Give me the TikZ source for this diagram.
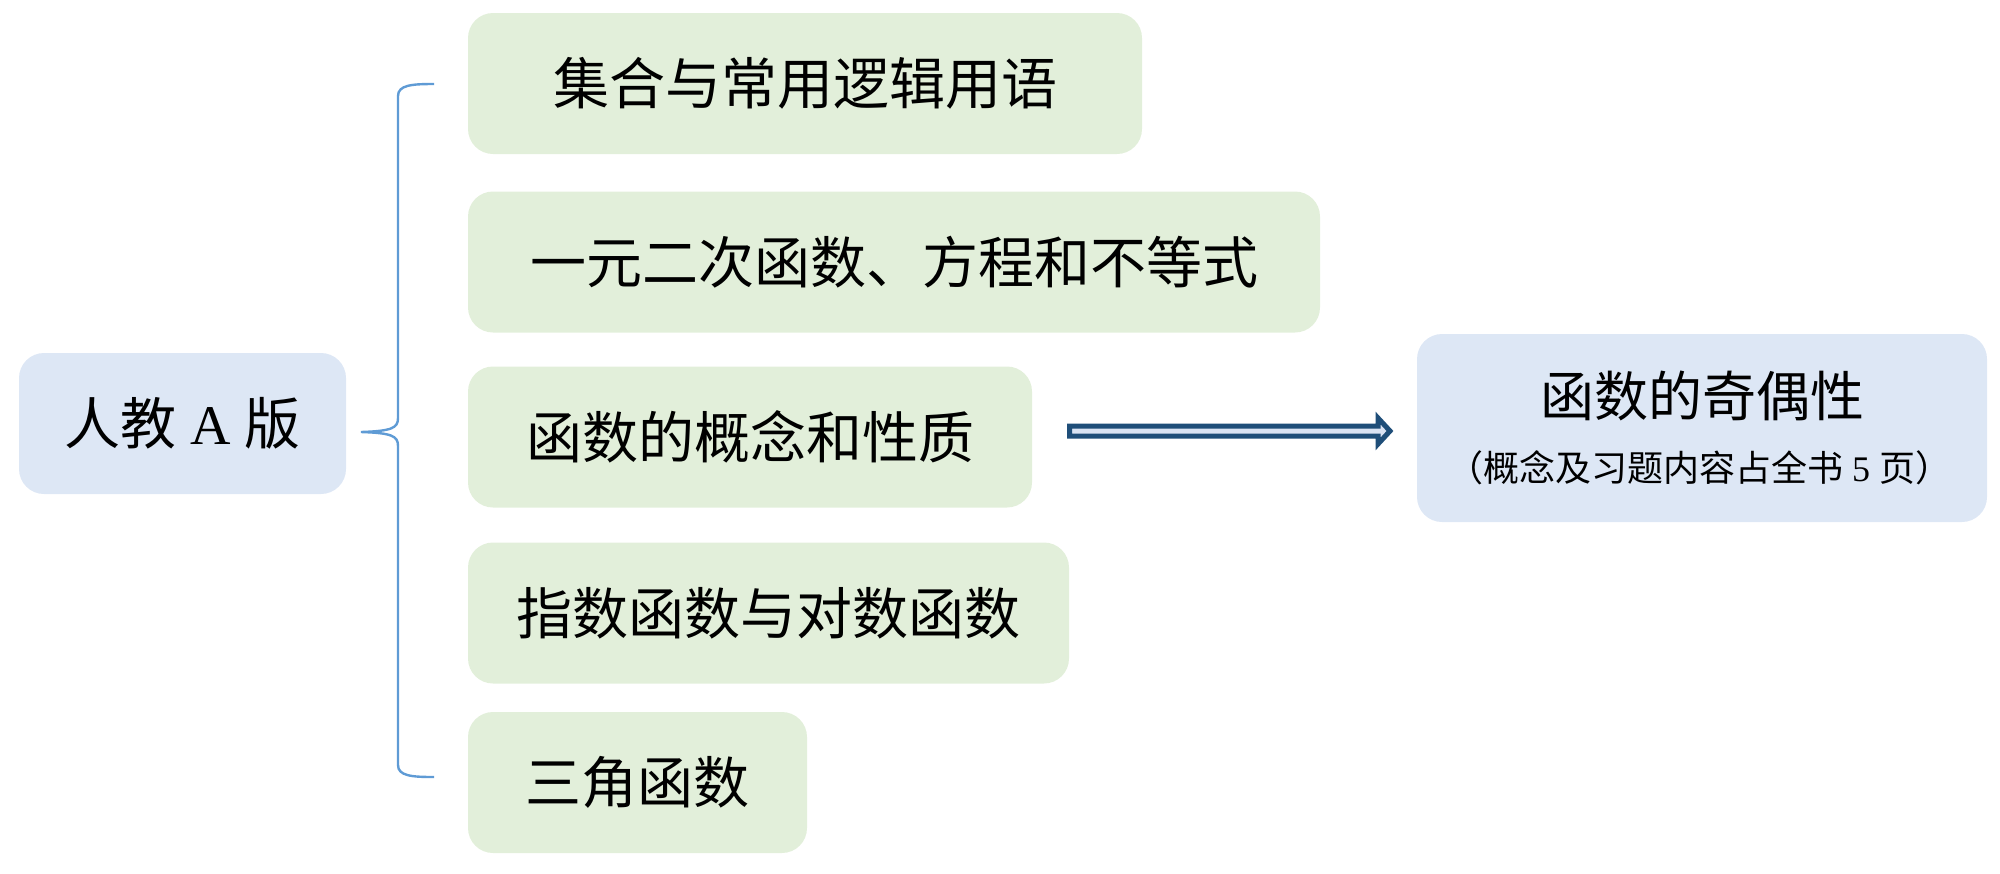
\documentclass[tikz,border=0pt]{standalone}
\usepackage{fontspec}
\setmainfont{Liberation Serif}
\newfontfamily\cjk{Noto Sans CJK SC}
\definecolor{boxgreen}{RGB}{226,239,218}
\definecolor{boxblue}{RGB}{221,231,245}
\definecolor{bracecol}{RGB}{95,155,213}
\definecolor{arrowdark}{RGB}{31,78,121}
\definecolor{arrowlight}{RGB}{218,227,243}
\begin{document}
\begin{tikzpicture}[x=0.5pt,y=-0.5pt,
  basebox/.style={rectangle, rounded corners=12.5pt, inner sep=0pt, minimum height=70.5pt, font=\fontsize{28pt}{34pt}\selectfont},
  greenbox/.style={basebox, fill=boxgreen},
  bluebox/.style={basebox, fill=boxblue},
  bracestyle/.style={draw=bracecol, line width=1.2pt},
  bigarrow/.style={draw=arrowdark, fill=arrowlight, line width=2.5pt, line join=miter}]
\useasboundingbox (0,0) rectangle (2000,873);
% left box
\node[bluebox, minimum width=163.5pt] (l) at (182.5,423.5) {{\cjk 人教} A {\cjk 版}};
% green boxes
\node[greenbox, minimum width=337pt] (g1) at (805,83.5) {\cjk 集合与常用逻辑用语};
\node[greenbox, minimum width=426pt] (g2) at (894,262) {\cjk 一元二次函数、方程和不等式};
\node[greenbox, minimum width=282pt] (g3) at (750,437) {\cjk 函数的概念和性质};
\node[greenbox, minimum width=300.5pt] (g4) at (768.5,613) {\cjk 指数函数与对数函数};
\node[greenbox, minimum width=169.5pt] (g5) at (637.5,782.5) {\cjk 三角函数};
% right box
\node[bluebox, minimum width=285pt, minimum height=94pt] (r) at (1702,428) {};
\node[font=\fontsize{27pt}{31pt}\selectfont, inner sep=0pt] (rt) at (1702,396) {\cjk 函数的奇偶性};
\node[font=\fontsize{18pt}{21pt}\selectfont, inner sep=0pt] (rs) at (1699,468) {{\cjk （概念及习题内容占全书} 5 {\cjk 页）}};
% brace
\coordinate (bt) at (434,84);
\coordinate (bm) at (361,432);
\coordinate (bb) at (434,777);
\draw[bracestyle] (bt) .. controls (412,84) and (398,85) .. (398,96)
  -- (398,418) .. controls (398,428) and (392,431) .. (bm)
  .. controls (392,433) and (398,436) .. (398,446)
  -- (398,765) .. controls (398,776) and (412,777) .. (bb);
% block arrow
\draw[bigarrow] (1069.5,426) -- (1378,426) -- (1378,418) -- (1390,431)
  -- (1378,444) -- (1378,436) -- (1069.5,436) -- cycle;
\end{tikzpicture}
\end{document}
